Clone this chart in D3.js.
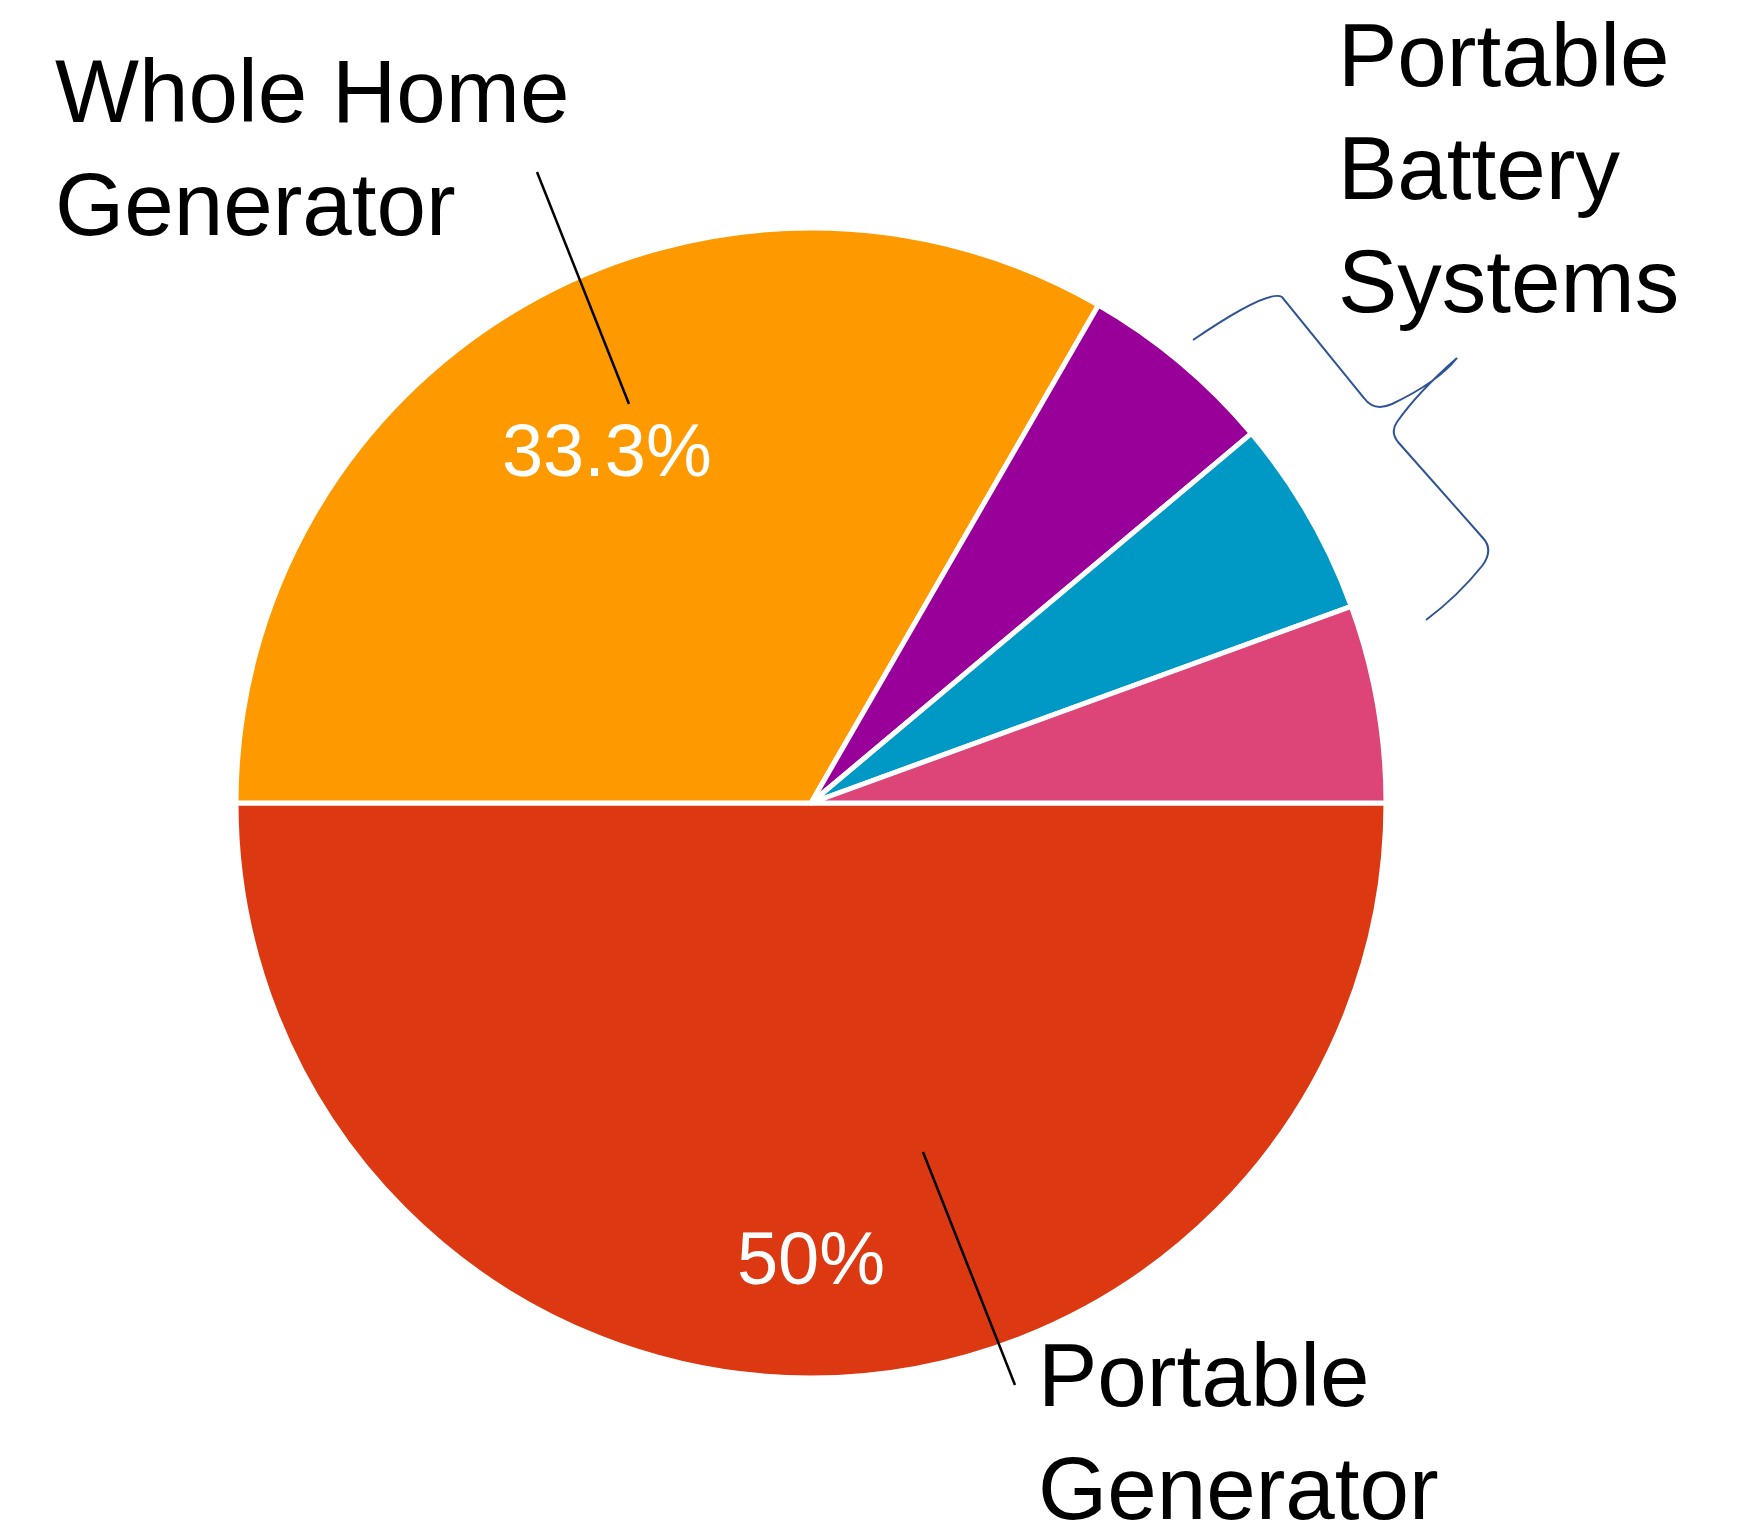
<!DOCTYPE html>
<html>
<head>
<meta charset="utf-8">
<script src="https://cdn.jsdelivr.net/npm/d3@7"></script>
<style>
  html, body { margin: 0; padding: 0; background: #fff; }
  svg { display: block; }
  .note { font-family: "Liberation Sans", Arial, sans-serif; font-size: 89px; fill: #000; }
  .pct { font-family: "Liberation Sans", Arial, sans-serif; font-size: 74px; fill: #fff; }
</style>
</head>
<body>
<div id="chart"></div>
<script>
// survey answers (counts), slices drawn clockwise starting at 3 o'clock
const categories = [
  'Portable Generator',
  'Whole Home Generator',
  'Portable Battery Systems (1)',
  'Portable Battery Systems (2)',
  'Portable Battery Systems (3)'
];
const values = [9, 6, 1, 1, 1];
const sliceColors = ['#dc3912', '#ff9900', '#990099', '#0099c6', '#dd4477'];

// callout labels written beside the pie
const calloutLines = [
  ['Whole Home', 'Generator'],
  ['Portable', 'Battery', 'Systems'],
  ['Portable', 'Generator']
];

const width = 1737,
  height = 1530;

const cx = 811,
  cy = 803,
  radius = 575;

const svg = d3.select('#chart').append('svg')
  .attr('width', width)
  .attr('height', height);

const data = categories.map((name, i) => ({ name, value: values[i], color: sliceColors[i] }));
const total = d3.sum(values);

const pie = d3.pie()
  .sort(null)
  .value(d => d.value)
  .startAngle(Math.PI / 2)
  .endAngle(Math.PI / 2 + 2 * Math.PI);

const arc = d3.arc()
  .innerRadius(0)
  .outerRadius(radius);

const arcs = pie(data);

const g = svg.append('g')
  .attr('transform', `translate(${cx},${cy})`);

g.selectAll('path.slice')
  .data(arcs)
  .enter()
  .append('path')
  .attr('class', 'slice')
  .attr('d', arc)
  .attr('fill', d => d.data.color)
  .attr('stroke', '#fff')
  .attr('stroke-width', 5)
  .attr('stroke-linejoin', 'round');

// percent labels, only for the slices big enough to hold them
const fmtPct = v => {
  let s = d3.format('.1f')(v * 100);
  if (s.endsWith('.0')) s = s.slice(0, -2);
  return s + '%';
};
const labelRadius = { 'Portable Generator': 0.79, 'Whole Home Generator': 0.71 };

g.selectAll('text.pct')
  .data(arcs.filter(d => d.data.value / total > 0.1))
  .enter()
  .append('text')
  .attr('class', 'pct')
  .attr('text-anchor', 'middle')
  .attr('x', d => {
    let a = (d.startAngle + d.endAngle) / 2;
    return Math.sin(a) * radius * labelRadius[d.data.name];
  })
  .attr('y', d => {
    let a = (d.startAngle + d.endAngle) / 2;
    return -Math.cos(a) * radius * labelRadius[d.data.name] + 27;
  })
  .text(d => fmtPct(d.data.value / total));

// callout text blocks
const calloutPos = [
  { x: 55, y: 122 },
  { x: 1338, y: 86 },
  { x: 1038, y: 1406 }
];
const lineGap = 113;

calloutLines.forEach((lines, i) => {
  let t = svg.append('text')
    .attr('class', 'note')
    .attr('x', calloutPos[i].x)
    .attr('y', calloutPos[i].y);
  lines.forEach((l, j) => {
    t.append('tspan')
      .attr('x', calloutPos[i].x)
      .attr('dy', j === 0 ? 0 : lineGap)
      .text(l);
  });
});

// leader lines
const leaders = [
  [[537, 172], [629, 404]],
  [[923, 1152], [1015, 1385]]
];
svg.selectAll('line.leader')
  .data(leaders)
  .enter()
  .append('line')
  .attr('class', 'leader')
  .attr('x1', d => d[0][0])
  .attr('y1', d => d[0][1])
  .attr('x2', d => d[1][0])
  .attr('y2', d => d[1][1])
  .attr('stroke', '#000')
  .attr('stroke-width', 2.5);

// hand drawn brace grouping the three battery slices
const brace = d3.path();
brace.moveTo(1193, 340);
brace.quadraticCurveTo(1268, 289, 1282, 297);
brace.lineTo(1364, 398);
brace.quadraticCurveTo(1374, 412, 1392, 404);
brace.quadraticCurveTo(1438, 382, 1457, 358);
brace.quadraticCurveTo(1418, 392, 1397, 422);
brace.quadraticCurveTo(1390, 432, 1398, 442);
brace.lineTo(1483, 538);
brace.quadraticCurveTo(1494, 550, 1482, 566);
brace.quadraticCurveTo(1458, 596, 1426, 620);

svg.append('path')
  .attr('d', brace.toString())
  .attr('fill', 'none')
  .attr('stroke', '#2f5496')
  .attr('stroke-width', 2);
</script>
</body>
</html>
